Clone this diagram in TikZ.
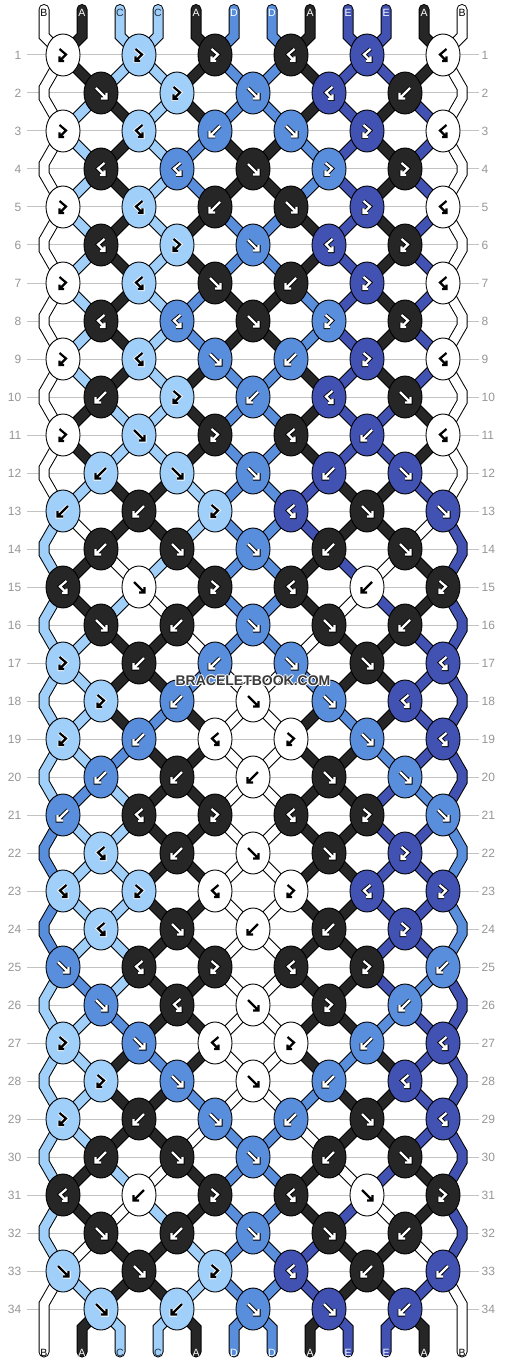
\documentclass[tikz,border=0pt]{standalone}
\usepackage{fontspec}
\setmainfont{Liberation Sans}
\usetikzlibrary{shapes.geometric}
\definecolor{cA}{RGB}{38,38,38}
\definecolor{cB}{RGB}{255,255,255}
\definecolor{cC}{RGB}{160,207,250}
\definecolor{cD}{RGB}{89,142,221}
\definecolor{cE}{RGB}{65,82,179}
\definecolor{rowgray}{RGB}{195,195,195}
\definecolor{numgray}{RGB}{150,150,150}
\definecolor{wmark}{RGB}{58,58,58}
\definecolor{labC}{RGB}{40,50,60}
\def\fgA{white}\def\bgA{black}
\def\fgB{black}\def\bgB{white}
\def\fgC{black}\def\bgC{white}
\def\fgD{white}\def\bgD{black}
\def\fgE{white}\def\bgE{black}
\def\lcA{white}\def\lcB{black}\def\lcC{labC}\def\lcD{white}\def\lcE{white}
\def\glyphF{(-5,-5)--(5.5,5.5) (5.5,0)--(5.5,5.5)--(0,5.5)}
\def\glyphB{(5,-5)--(-5.5,5.5) (-5.5,0)--(-5.5,5.5)--(0,5.5)}
\def\glyphL{(-3.5,-6)--(3,-0.5)--(-3.5,6) (-3.5,1.5)--(-3.5,6)--(1,6)}
\def\glyphR{(3.5,-6)--(-3,-0.5)--(3.5,6) (3.5,1.5)--(3.5,6)--(-1,6)}
\def\startcols{B,A,C,C,A,D,D,A,E,E,A,B}
\def\rows{{L,L,L,R,R,R},{F,L,F,R,B},{L,R,B,F,L,R},{R,R,F,L,L},{L,R,B,F,L,R},{R,L,F,R,L},{L,R,F,B,L,R},{R,R,F,L,L},{L,R,F,B,L,R},{B,L,B,R,F},{L,F,L,R,B,R},{B,F,F,B,F},{B,B,L,R,F,F},{B,F,F,B,F},{R,F,L,R,B,L},{F,B,F,F,B},{L,B,B,F,F,R},{L,B,F,F,R},{L,B,R,L,F,R},{B,B,B,F,F},{B,R,L,R,L,F},{R,B,F,F,L},{R,L,R,L,R,L},{R,F,B,B,L},{F,R,L,R,L,B},{F,R,F,L,B},{L,F,R,L,B,R},{L,F,F,B,R},{L,B,F,B,F,R},{B,F,F,B,F},{R,B,L,R,F,L},{F,B,F,F,B},{F,F,L,R,B,B},{F,B,F,F,B}}
\newcommand\halotext[1]{\leavevmode
  \rlap{\textcolor{white}{\kern-1pt #1}}\rlap{\textcolor{white}{\kern1pt #1}}%
  \rlap{\textcolor{white}{\raisebox{1pt}{#1}}}\rlap{\textcolor{white}{\raisebox{-1pt}{#1}}}%
  \rlap{\textcolor{white}{\kern-0.7pt\raisebox{0.7pt}{#1}}}\rlap{\textcolor{white}{\kern0.7pt\raisebox{0.7pt}{#1}}}%
  \rlap{\textcolor{white}{\kern-0.7pt\raisebox{-0.7pt}{#1}}}\rlap{\textcolor{white}{\kern0.7pt\raisebox{-0.7pt}{#1}}}%
  #1}
\def\drawknot#1#2#3#4{%
  \node[knot, fill=c#3] (k#1-#2) at (c#1-#2) {};
  \edef\gfg{\csname fg#3\endcsname}%
  \edef\gbg{\csname bg#3\endcsname}%
  \edef\gcmd{\noexpand\draw[gout, draw=\gbg, shift={(c#1-#2)}] \csname glyph#4\endcsname;%
    \noexpand\draw[gin, draw=\gfg, shift={(c#1-#2)}] \csname glyph#4\endcsname;}%
  \gcmd}
\def\swapit{\expandafter\xdef\csname pos\pp\endcsname{\strb}%
  \expandafter\xdef\csname pos\qq\endcsname{\stra}}
\gdef\knotlist{}
\begin{document}
\begin{tikzpicture}[x=1pt,y=-1pt,
  strout/.style={line width=11pt, draw=black, line cap=round, line join=miter},
  strin/.style={line width=9pt, line cap=round, line join=miter},
  knot/.style={ellipse, draw=black, line width=0.9pt, minimum width=34pt, minimum height=42pt, inner sep=0pt, outer sep=0pt},
  gout/.style={line width=4pt, line cap=butt, line join=miter},
  gin/.style={line width=2.2pt, line cap=butt, line join=miter},
  rowline/.style={draw=rowgray, line width=1pt},
  rownum/.style={text=numgray, font=\fontsize{12}{12}\selectfont, inner sep=0pt},
  strlabel/.style={font=\fontsize{10.5}{10.5}\selectfont, inner sep=0pt}]
\useasboundingbox[fill=white] (0,0) rectangle (506,1364);
% initial strings
\foreach \cc [count=\pj] in \startcols {
  \pgfmathtruncatemacro\xx{44+(\pj-1)*38}
  \coordinate (top\pj) at (\xx,9.5);
  \coordinate (topb\pj) at (\xx,36);
  \expandafter\xdef\csname pos\pj\endcsname{\pj}
  \expandafter\xdef\csname scol\pj\endcsname{\cc}
  \expandafter\xdef\csname path\pj\endcsname{(top\pj) -- (topb\pj)}
}
% rows
\foreach \types [count=\rr] in \rows {
  \pgfmathtruncatemacro\yy{55+(\rr-1)*38}
  \pgfmathtruncatemacro\stp{2-mod(\rr,2)}
  \ifnum\stp=2
    \coordinate (eLa\rr) at (44,\yy-5);
    \coordinate (eLb\rr) at (44,\yy+5);
    \coordinate (eRa\rr) at (462,\yy-5);
    \coordinate (eRb\rr) at (462,\yy+5);
    \edef\stra{\csname pos1\endcsname}%
    \expandafter\xdef\csname path\stra\endcsname{\csname path\stra\endcsname -- (eLa\rr) -- (eLb\rr)}%
    \edef\strb{\csname pos12\endcsname}%
    \expandafter\xdef\csname path\strb\endcsname{\csname path\strb\endcsname -- (eRa\rr) -- (eRb\rr)}%
  \fi
  \foreach \ty [count=\kk] in \types {
    \pgfmathtruncatemacro\pp{\stp+2*(\kk-1)}
    \pgfmathtruncatemacro\qq{\pp+1}
    \pgfmathtruncatemacro\xk{63+(\pp-1)*38}
    \coordinate (c\rr-\kk) at (\xk,\yy);
    \edef\stra{\csname pos\pp\endcsname}%
    \edef\strb{\csname pos\qq\endcsname}%
    \expandafter\xdef\csname path\stra\endcsname{\csname path\stra\endcsname -- (c\rr-\kk)}%
    \expandafter\xdef\csname path\strb\endcsname{\csname path\strb\endcsname -- (c\rr-\kk)}%
    \let\mk\stra
    \if\ty B\let\mk\strb\fi
    \if\ty R\let\mk\strb\fi
    \edef\mcol{\csname scol\mk\endcsname}%
    \xdef\knotlist{\unexpanded\expandafter{\knotlist}\noexpand\drawknot{\rr}{\kk}{\mcol}{\ty}}%
    \if\ty F\swapit\fi
    \if\ty B\swapit\fi
  }
}
% bottom ends
\foreach \pj in {1,...,12} {
  \pgfmathtruncatemacro\xx{44+(\pj-1)*38}
  \coordinate (bot\pj) at (\xx,1328);
  \coordinate (bote\pj) at (\xx,1352);
  \edef\stra{\csname pos\pj\endcsname}%
  \expandafter\xdef\csname path\stra\endcsname{\csname path\stra\endcsname -- (bot\pj) -- (bote\pj)}%
}
% row lines and numbers
\foreach \rr in {1,...,34} {
  \pgfmathtruncatemacro\yy{55+(\rr-1)*38}
  \node[rownum, anchor=east] (nl\rr) at (21.5,\yy) {\rr};
  \node[rownum, anchor=west] (nr\rr) at (481.5,\yy) {\rr};
  \draw[rowline] ([xshift=5pt]nl\rr.east) -- ([xshift=-2.5pt]nr\rr.west);
}
% strings
\foreach \pj in {1,...,12} {
  \edef\scmd{\noexpand\draw[strout] \csname path\pj\endcsname;}\scmd
}
\foreach \pj in {1,...,12} {
  \edef\scmd{\noexpand\draw[strin, draw=c\csname scol\pj\endcsname] \csname path\pj\endcsname;}\scmd
}
% knots
\knotlist
% labels
\foreach \pj in {1,...,12} {
  \pgfmathtruncatemacro\xx{44+(\pj-1)*38}
  \edef\cl{\csname scol\pj\endcsname}%
  \edef\lc{\csname lc\cl\endcsname}%
  \node[strlabel, text=\lc] (lt\pj) at (\xx,12.5) {\cl};
  \edef\stra{\csname pos\pj\endcsname}%
  \edef\clb{\csname scol\stra\endcsname}%
  \edef\lcb{\csname lc\clb\endcsname}%
  \node[strlabel, text=\lcb] (lb\pj) at (\xx,1352.5) {\clb};
}
\node[font=\bfseries\fontsize{14}{14}\selectfont, text=wmark, inner sep=0pt] (wm) at (253,681) {\halotext{BRACELETBOOK.COM}};
\end{tikzpicture}
\end{document}
